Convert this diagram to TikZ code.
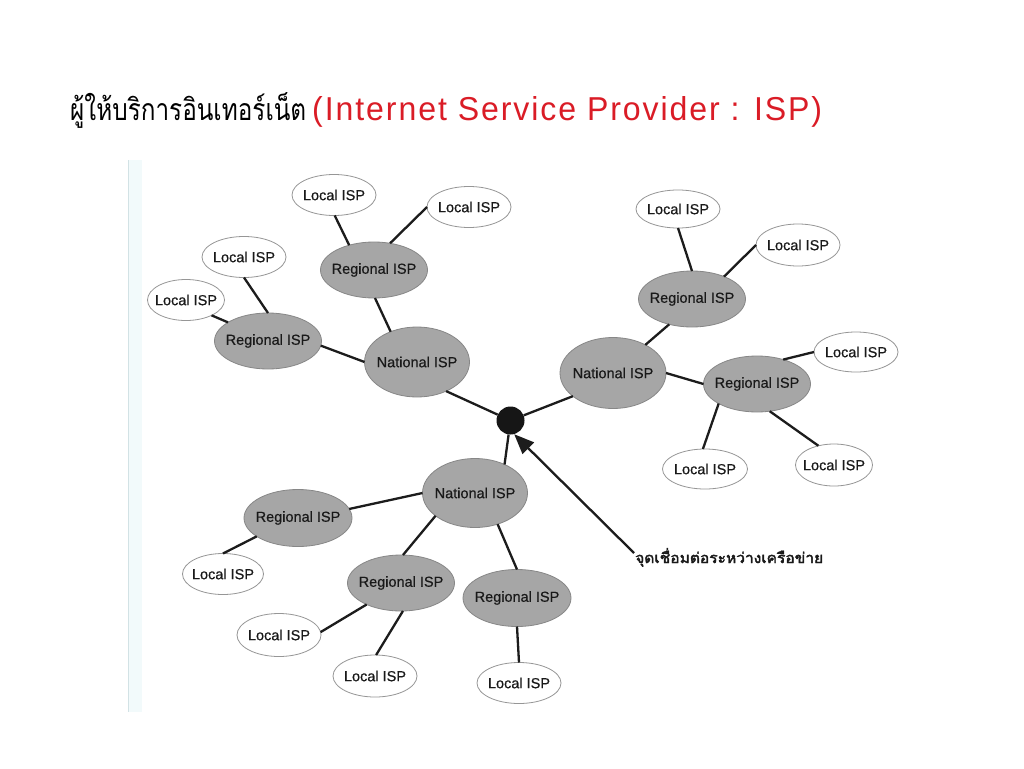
\documentclass[tikz,border=0pt]{standalone}
\usepackage{fontspec}
\setmainfont{Liberation Sans}
\newfontfamily\thaifont[Script=Thai]{Loma}
\newfontfamily\thaiheavy[Script=Thai,FakeBold=2.5]{Loma}
\newfontfamily\arialfont{Liberation Sans}
\newfontfamily\nodefont[FakeBold=0.5]{Liberation Sans}
\usetikzlibrary{shapes.geometric,arrows.meta}
\definecolor{nodegray}{RGB}{166,166,166}
\definecolor{regborder}{RGB}{135,135,135}
\definecolor{locborder}{RGB}{150,150,150}
\definecolor{txt}{RGB}{25,25,25}
\definecolor{linkc}{RGB}{28,28,28}
\definecolor{hubc}{RGB}{22,22,22}
\definecolor{titlered}{RGB}{218,28,38}
\definecolor{scanband}{RGB}{242,250,251}
\definecolor{scanline}{RGB}{210,226,229}
\begin{document}
\begin{tikzpicture}[x=1pt,y=-1pt,
  base/.style={ellipse, inner sep=0pt, outer sep=0pt, text=txt,
    font=\nodefont\fontsize{14.5}{16}\selectfont},
  loc/.style={base, draw=locborder, line width=0.8pt, fill=white,
    minimum width=84pt, minimum height=41pt},
  reg/.style={base, draw=regborder, line width=0.8pt, fill=nodegray,
    minimum width=107pt, minimum height=56pt},
  nat/.style={base, draw=regborder, line width=0.8pt, fill=nodegray,
    minimum width=105pt, minimum height=70pt},
  link/.style={draw=linkc, line width=2.3pt},
  pointer/.style={draw=linkc, line width=2.3pt, -{Triangle[length=20pt,width=16pt]}},
]
\useasboundingbox (0,0) rectangle (1024,768);
\fill[white] (0,0) rectangle (1024,768);
% faint edge of the scanned figure
\fill[scanband] (128,160) rectangle (142,712);
\draw[scanline, line width=1.5pt] (128.5,160) -- (128.5,712);

% title
\node[anchor=base west, inner sep=0pt] (titleth) at (70,120)
  {\resizebox{236pt}{28pt}{\thaifont\fontsize{34}{40}\selectfont ผู้ให้บริการอินเทอร์เน็ต}};
\node[anchor=base west, inner sep=0pt, text=titlered] (titleen) at (312,120)
  {\resizebox{510pt}{24pt}{\arialfont\addfontfeature{LetterSpace=6}\fontsize{32}{40}\selectfont (Internet Service Provider : ISP)}};

% hub
\node[circle, fill=hubc, minimum size=28pt, inner sep=0pt] (hub) at (510.5,420.5) {};

% top-left cluster
\node[loc] (locTop) at (334,195) {\makebox[0pt]{Local ISP}};
\node[loc] (locTR) at (469,207) {\makebox[0pt]{Local ISP}};
\node[reg] (regTop) at (374,270) {\makebox[0pt]{Regional ISP}};
\node[loc] (locL1) at (244,257) {\makebox[0pt]{Local ISP}};
\node[loc, minimum width=77pt] (locL2) at (186,300) {\makebox[0pt]{Local ISP}};
\node[reg] (regL) at (268,341) {\makebox[0pt]{Regional ISP}};
\node[nat] (natL) at (417,362) {\makebox[0pt]{National ISP}};

% right cluster
\node[loc, minimum height=38pt] (locR1) at (678,209) {\makebox[0pt]{Local ISP}};
\node[loc, minimum height=42pt] (locR2) at (798,245) {\makebox[0pt]{Local ISP}};
\node[reg] (regR1) at (692,299) {\makebox[0pt]{Regional ISP}};
\node[nat, minimum width=106pt, minimum height=71pt] (natR) at (613,373) {\makebox[0pt]{National ISP}};
\node[reg] (regR2) at (757,384) {\makebox[0pt]{Regional ISP}};
\node[loc, minimum height=40pt] (locR3) at (856,352) {\makebox[0pt]{Local ISP}};
\node[loc, minimum width=85pt, minimum height=40pt] (locR4) at (705,469) {\makebox[0pt]{Local ISP}};
\node[loc, minimum width=77pt, minimum height=42pt] (locR5) at (834,465) {\makebox[0pt]{Local ISP}};

% bottom cluster
\node[nat, minimum height=69pt] (natB) at (475,493) {\makebox[0pt]{National ISP}};
\node[reg, minimum width=108pt, minimum height=57pt] (regB1) at (298,518) {\makebox[0pt]{Regional ISP}};
\node[loc, minimum width=81pt] (locB1) at (223,574) {\makebox[0pt]{Local ISP}};
\node[reg] (regB2) at (401,583) {\makebox[0pt]{Regional ISP}};
\node[loc, minimum height=43pt] (locB2) at (279,635) {\makebox[0pt]{Local ISP}};
\node[loc, minimum height=42pt] (locB3) at (375,676) {\makebox[0pt]{Local ISP}};
\node[reg, minimum width=108pt, minimum height=57pt] (regB3) at (517,598) {\makebox[0pt]{Regional ISP}};
\node[loc] (locB4) at (519,683) {\makebox[0pt]{Local ISP}};

% pointer label
\node[anchor=base west, inner sep=0pt, text=txt] (lbl) at (635,563)
  {\resizebox{188pt}{15pt}{\thaiheavy\fontsize{18}{22}\selectfont จุดเชื่อมต่อระหว่างเครือข่าย}};
\coordinate (tail) at (634,553);

% connectors
\draw[link] (locTop.272) -- (regTop.135);
\draw[link] (locTR.180) -- (regTop.59);
\draw[link] (regTop.272) -- (natL.131);
\draw[link] (locL1.270) -- (regL.90);
\draw[link] (locL2.329) -- (regL.155);
\draw[link] (regL.355) -- (natL.180);
\draw[link] (natL.315) -- (hub);
\draw[link] (locR1.270) -- (regR1.90);
\draw[link] (locR2.180) -- (regR1.35);
\draw[link] (regR1.228) -- (natR.41);
\draw[link] (natR.0) -- (regR2.180);
\draw[link] (regR2.43) -- (locR3.180);
\draw[link] (regR2.207) -- (locR4.96);
\draw[link] (regR2.295) -- (locR5.129);
\draw[link] (natR.210) -- (hub);
\draw[link] (natB.180) -- (regB1.10);
\draw[link] (regB1.204) -- (locB1.90);
\draw[link] (natB.210) -- (regB2.86);
\draw[link] (regB2.212) -- (locB2.4);
\draw[link] (regB2.274) -- (locB3.87);
\draw[link] (hub) -- (natB.44);
\draw[link] (natB.306) -- (regB3.90);
\draw[link] (regB3.270) -- (locB4.90);
\draw[pointer] (tail) -- (hub.-75);
\end{tikzpicture}
\end{document}
